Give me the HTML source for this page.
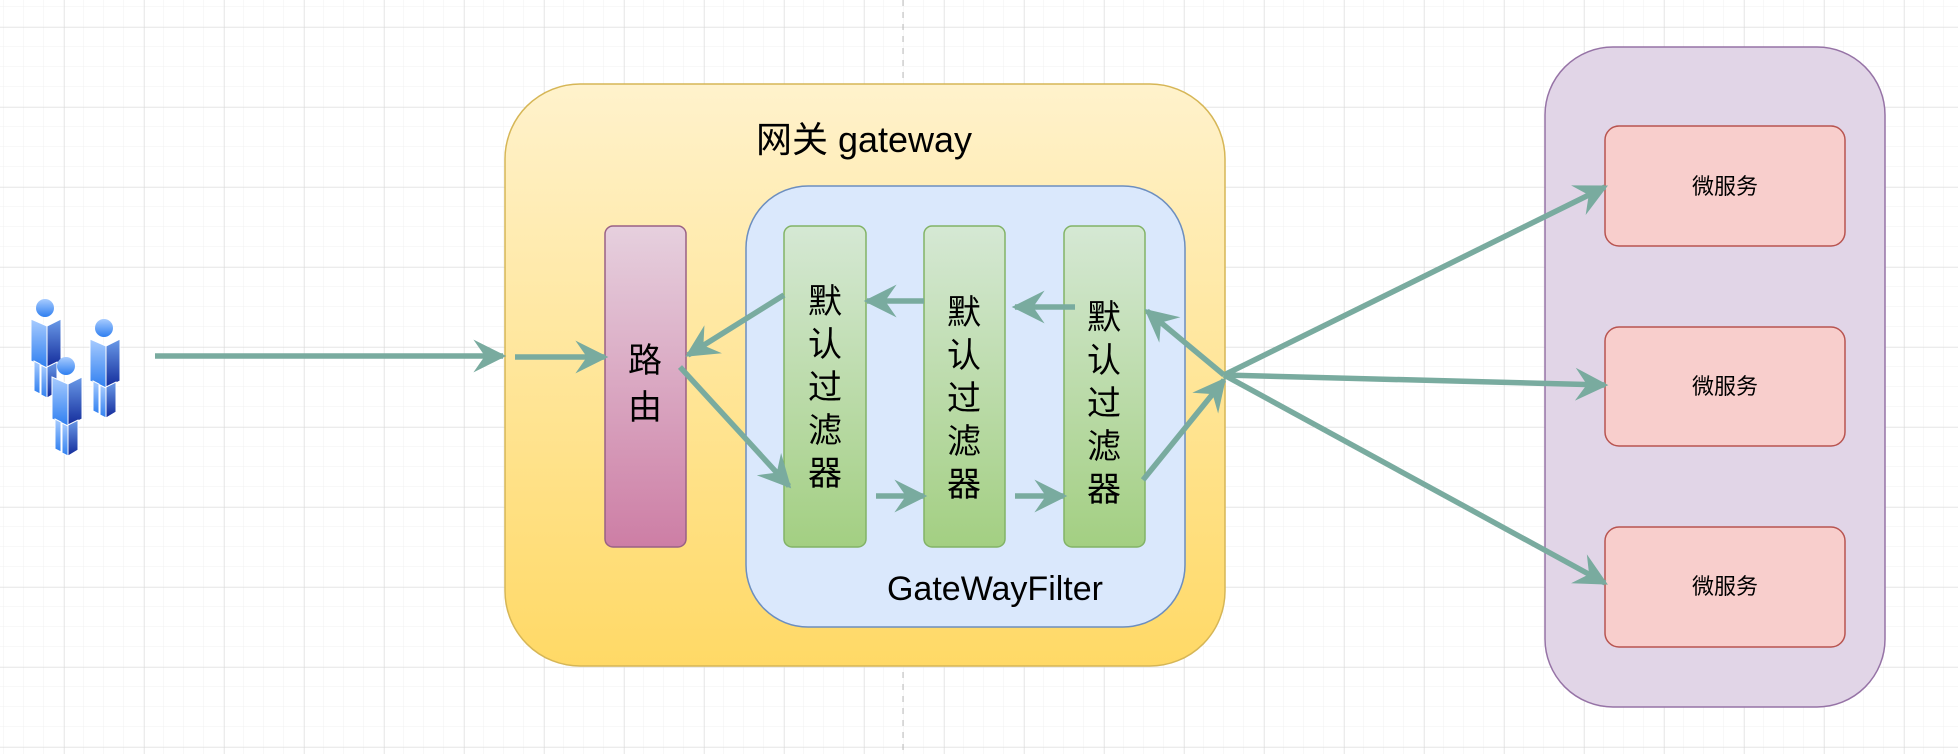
<!DOCTYPE html>
<html><head><meta charset="utf-8"><style>
html,body{margin:0;padding:0;background:#fff}
svg{display:block}
text{font-family:"Liberation Sans","Noto Sans CJK SC",sans-serif}
</style></head><body>
<svg width="1958" height="754" viewBox="0 0 1958 754" xmlns="http://www.w3.org/2000/svg">
<defs>
<pattern id="minor" width="20" height="20" patternUnits="userSpaceOnUse" x="4" y="7">
<path d="M20 0V20M0 20H20" fill="none" stroke="#f0f0f0" stroke-width="1"/></pattern>
<pattern id="major" width="80" height="80" patternUnits="userSpaceOnUse" x="64" y="27">
<path d="M0 0V80M0 0H80" fill="none" stroke="#d8d8d8" stroke-width="1"/></pattern>
<linearGradient id="gy" x1="0" y1="0" x2="0" y2="1"><stop offset="0" stop-color="#fff2cc"/><stop offset="1" stop-color="#ffd966"/></linearGradient>
<linearGradient id="gr" x1="0" y1="0" x2="0" y2="1"><stop offset="0" stop-color="#e6d0de"/><stop offset="1" stop-color="#cd7ea5"/></linearGradient>
<linearGradient id="gg" x1="0" y1="0" x2="0" y2="1"><stop offset="0" stop-color="#d5e8d4"/><stop offset="1" stop-color="#a3cf82"/></linearGradient>
<linearGradient id="gp" x1="0" y1="0" x2="0" y2="1"><stop offset="0" stop-color="#a8ccff"/><stop offset="1" stop-color="#2f7ff0"/></linearGradient>
<linearGradient id="gpd" x1="0" y1="0" x2="0" y2="1"><stop offset="0" stop-color="#6a9ae8"/><stop offset="1" stop-color="#122a9a"/></linearGradient>
<marker id="ar" viewBox="0 0 10 10" refX="9" refY="5" markerWidth="6" markerHeight="6" orient="auto" markerUnits="strokeWidth">
<path d="M0 0L10 5L0 10L3.5 5Z" fill="#79ab9f"/></marker>
<g id="person">
<circle cx="0" cy="0" r="9" fill="url(#gp)"/>
<path d="M-14 11L2 18L2 60L-14 53Z" fill="url(#gp)" stroke="#fff" stroke-width="1"/>
<path d="M2 18L16 11L16 53L2 60Z" fill="url(#gpd)" stroke="#fff" stroke-width="1"/>
<path d="M-11 53L-5 56L-5 86L-11 83Z" fill="url(#gp)" stroke="#fff" stroke-width="1"/>
<path d="M-4 57L2 60L2 90L-4 87Z" fill="url(#gp)" stroke="#fff" stroke-width="1"/>
<path d="M2 59L12 54L12 84L2 90Z" fill="url(#gpd)" stroke="#fff" stroke-width="1"/>
</g>
</defs>
<rect width="1958" height="754" fill="url(#minor)"/>
<rect width="1958" height="754" fill="url(#major)"/>
<line x1="903" y1="0" x2="903" y2="754" stroke="#bbb" stroke-dasharray="6 6"/>

<rect x="505" y="84" width="720" height="582" rx="75" fill="url(#gy)" stroke="#d6b656" stroke-width="1.5"/>
<text x="864" y="152" font-size="36" text-anchor="middle">网关 gateway</text>
<rect x="746" y="186" width="439" height="441" rx="62" fill="#dae8fc" stroke="#6c8ebf" stroke-width="1.5"/>
<text x="995" y="600" font-size="34" text-anchor="middle">GateWayFilter</text>

<rect x="605" y="226" width="81" height="321" rx="8" fill="url(#gr)" stroke="#996185" stroke-width="1.5"/>
<text x="645" y="372" font-size="34" text-anchor="middle">路</text>
<text x="645" y="419" font-size="34" text-anchor="middle">由</text>

<g font-size="34" text-anchor="middle">
<rect x="784" y="226" width="82" height="321" rx="8" fill="url(#gg)" stroke="#82b366" stroke-width="1.5"/>
<text x="825" y="313">默</text><text x="825" y="356">认</text><text x="825" y="399">过</text><text x="825" y="442">滤</text><text x="825" y="485">器</text>
<rect x="924" y="226" width="81" height="321" rx="8" fill="url(#gg)" stroke="#82b366" stroke-width="1.5"/>
<text x="964" y="324">默</text><text x="964" y="367">认</text><text x="964" y="410">过</text><text x="964" y="453">滤</text><text x="964" y="496">器</text>
<rect x="1064" y="226" width="81" height="321" rx="8" fill="url(#gg)" stroke="#82b366" stroke-width="1.5"/>
<text x="1104" y="329">默</text><text x="1104" y="372">认</text><text x="1104" y="415">过</text><text x="1104" y="458">滤</text><text x="1104" y="501">器</text>
</g>

<rect x="1545" y="47" width="340" height="660" rx="68" fill="#e1d5e7" stroke="#9673a6" stroke-width="1.5"/>
<g font-size="22" text-anchor="middle">
<rect x="1605" y="126" width="240" height="120" rx="14" fill="#f8cecc" stroke="#b85450" stroke-width="1.5"/>
<text x="1725" y="194">微服务</text>
<rect x="1605" y="327" width="240" height="119" rx="14" fill="#f8cecc" stroke="#b85450" stroke-width="1.5"/>
<text x="1725" y="394">微服务</text>
<rect x="1605" y="527" width="240" height="120" rx="14" fill="#f8cecc" stroke="#b85450" stroke-width="1.5"/>
<text x="1725" y="594">微服务</text>
</g>

<use href="#person" x="45" y="308"/>
<use href="#person" x="104" y="328"/>
<use href="#person" x="66" y="366"/>

<g stroke="#79ab9f" stroke-width="5.5" fill="none" marker-end="url(#ar)">
<line x1="155" y1="356" x2="503" y2="356"/>
<line x1="515" y1="357" x2="605" y2="357"/>
<line x1="784" y1="295" x2="688" y2="355"/>
<line x1="680" y1="367" x2="789" y2="486"/>
<line x1="876" y1="496" x2="924" y2="496"/>
<line x1="1015" y1="496" x2="1064" y2="496"/>
<line x1="924" y1="301" x2="867" y2="301"/>
<line x1="1075" y1="307" x2="1015" y2="307"/>
<line x1="1224" y1="375" x2="1147" y2="311"/>
<line x1="1143" y1="480" x2="1224" y2="380"/>
<line x1="1224" y1="375" x2="1605" y2="187"/>
<line x1="1224" y1="375" x2="1605" y2="385"/>
<line x1="1224" y1="375" x2="1605" y2="583"/>
</g>
</svg>
</body></html>
